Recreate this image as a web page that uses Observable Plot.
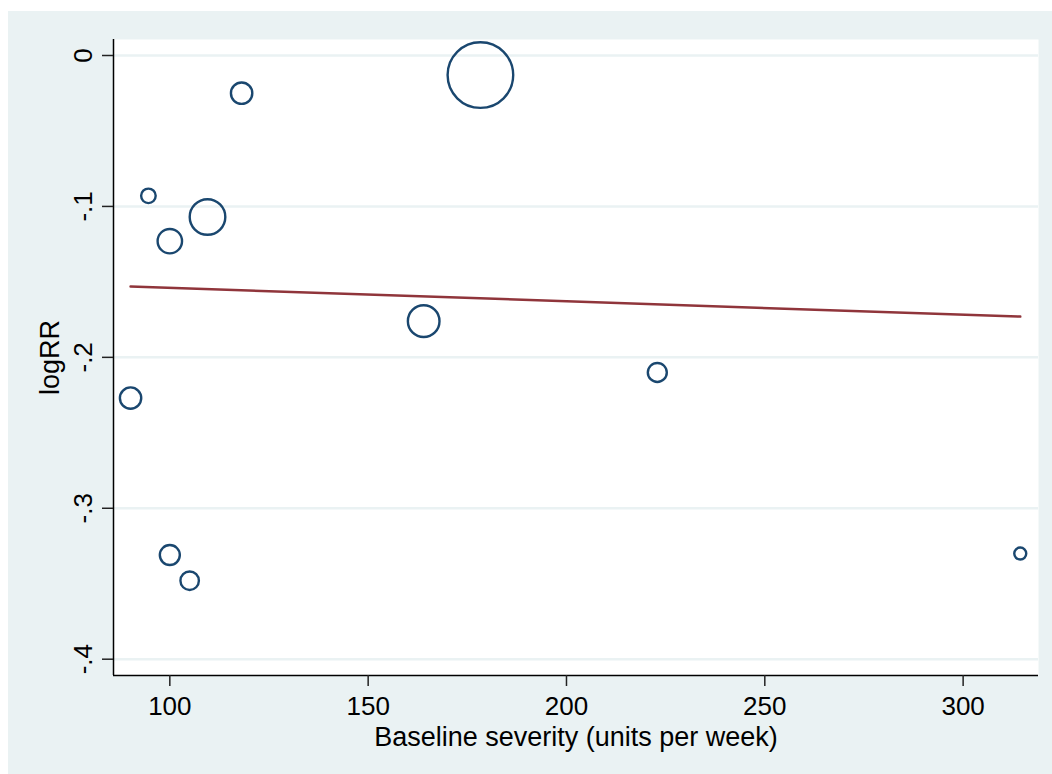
<!DOCTYPE html>
<html>
<head>
<meta charset="utf-8">
<script src="https://cdn.jsdelivr.net/npm/d3@7"></script>
<script src="https://cdn.jsdelivr.net/npm/@observablehq/plot@0.6"></script>
<style>
  html, body { margin: 0; padding: 0; background: #ffffff; }
  #chart svg { display: block; }
</style>
</head>
<body>
<div id="chart"></div>
<script>
// Studies: baseline severity (x), log relative risk (y), study weight (bubble size)
const severity = [90.1, 94.6, 100.0, 109.5, 118.1, 100.0, 105.0, 164.0, 178.3, 222.9, 314.4];
const logRR    = [-0.227, -0.093, -0.123, -0.107, -0.025, -0.331, -0.348, -0.176, -0.013, -0.210, -0.330];
const weight   = [114, 53, 149, 317, 114, 100, 85, 250, 1076, 90, 36];

// Fitted meta-regression line (endpoints)
const fitX = [90.1, 314.4];
const fitY = [-0.1531, -0.1730];

const xTicks = [100, 150, 200, 250, 300];
const yTicks = [0, -0.1, -0.2, -0.3, -0.4];
const yTickLabels = ["0", "-.1", "-.2", "-.3", "-.4"];
const xTitle = "Baseline severity (units per week)";
const yTitle = "logRR";

const studies = severity.map((s, i) => ({severity: s, logRR: logRR[i], weight: weight[i]}));
const fit = fitX.map((x, i) => ({x, y: fitY[i]}));
const yLab = yTicks.map((v, i) => ({v, t: yTickLabels[i]}));

const FONT = "'Liberation Sans', Arial, Helvetica, sans-serif";
const FS = 26;
const FT = 27;

const chart = Plot.plot({
  width: 1052,
  height: 774,
  marginLeft: 113,
  marginRight: 14,
  marginTop: 39,
  marginBottom: 99,
  style: {background: "transparent", fontFamily: FONT, fontSize: FS + "px", color: "#000"},
  x: {domain: [85.8, 319.0], axis: null},
  y: {domain: [-0.4108, 0.0106], axis: null},
  r: {type: "sqrt", domain: [0, 1076], range: [0, 32.8]},
  marks: [
    Plot.frame({fill: "white", stroke: null}),
    Plot.gridY(yTicks, {stroke: "#eaf2f3", strokeOpacity: 1, strokeWidth: 2.5}),
    Plot.ruleX([85.8], {stroke: "#000", strokeWidth: 1.5}),
    Plot.ruleY([-0.4108], {stroke: "#000", strokeWidth: 1.5}),
    Plot.axisY({ticks: yTicks, tickSize: 11, tickFormat: () => "", label: null, stroke: "#222", strokeWidth: 1.5}),
    Plot.axisX({ticks: xTicks, tickSize: 11, tickFormat: () => "", label: null, stroke: "#222", strokeWidth: 1.5}),
    Plot.text(yLab, {
      y: "v", text: "t", frameAnchor: "left", dx: -22, rotate: -90,
      textAnchor: "middle", lineAnchor: "bottom", fontSize: FS, fill: "#000", fontFamily: FONT
    }),
    Plot.text(xTicks, {
      x: d => d, text: d => String(d), frameAnchor: "bottom", dy: 21,
      textAnchor: "middle", lineAnchor: "top", fontSize: FS, fill: "#000", fontFamily: FONT
    }),
    Plot.text([xTitle], {
      text: d => d, frameAnchor: "bottom", dy: 51, lineAnchor: "top",
      textAnchor: "middle", fontSize: FT, fill: "#000", fontFamily: FONT
    }),
    Plot.text([yTitle], {
      text: d => d, frameAnchor: "left", dx: -55, rotate: -90, lineAnchor: "bottom",
      textAnchor: "middle", fontSize: FT, fill: "#000", fontFamily: FONT
    }),
    Plot.line(fit, {x: "x", y: "y", stroke: "#90353b", strokeWidth: 2.5}),
    Plot.dot(studies, {x: "severity", y: "logRR", r: "weight", stroke: "#1a476f", strokeWidth: 2.4, fill: "none"})
  ]
});

// Outer light background panel (Stata graph region)
const svg = d3.select(chart);
svg.insert("rect", ":first-child")
  .attr("x", 8).attr("y", 11).attr("width", 1044).attr("height", 763)
  .attr("fill", "#eaf2f3");
svg.style("background", "#ffffff");

document.getElementById("chart").appendChild(chart);
</script>
</body>
</html>
